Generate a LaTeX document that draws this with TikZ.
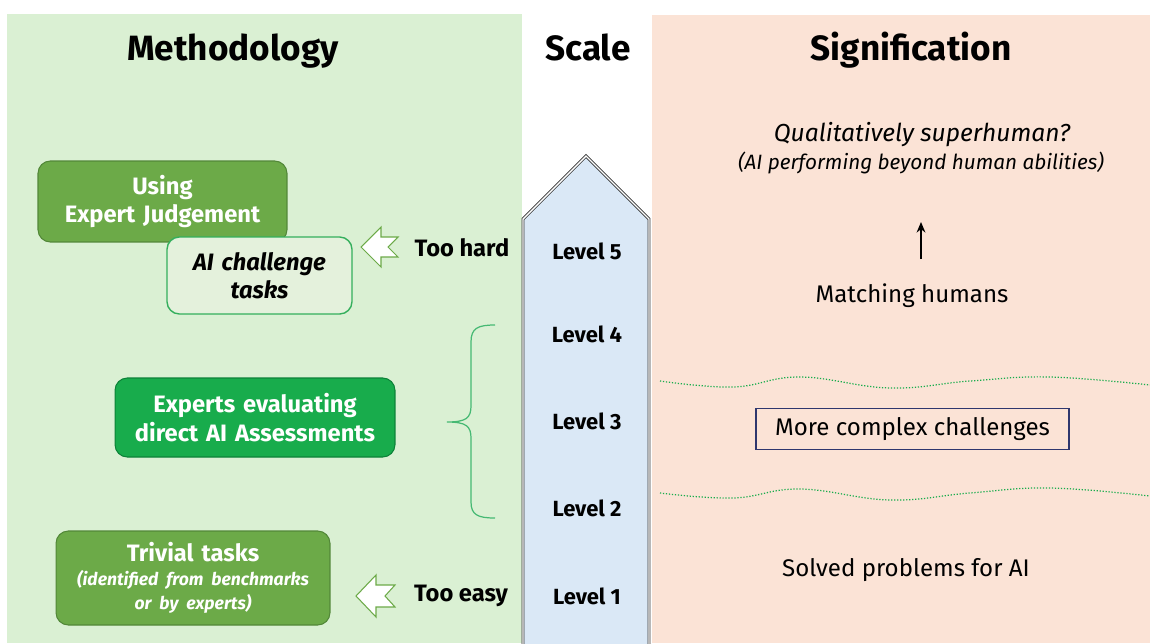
\documentclass[tikz,border=0pt]{standalone}
\usepackage{fontspec}
\setmainfont{Fira Sans}
\usetikzlibrary{arrows.meta}
\definecolor{panelgreen}{RGB}{218,240,211}
\definecolor{panelpink}{RGB}{251,227,214}
\definecolor{scaleblue}{RGB}{218,232,246}
\definecolor{boxgreen}{RGB}{108,170,72}
\definecolor{boxgreenedge}{RGB}{82,135,56}
\definecolor{brightgreen}{RGB}{24,172,76}
\definecolor{brightgreenedge}{RGB}{12,130,56}
\definecolor{palegreen}{RGB}{228,241,220}
\definecolor{edgegreen}{RGB}{52,175,92}
\definecolor{bracegreen}{RGB}{70,185,115}
\definecolor{navy}{RGB}{47,55,110}
\tikzset{
  titletext/.style={font=\fontsize{20}{24}\selectfont\bfseries, inner sep=0pt},
  leveltext/.style={font=\fontsize{12.5}{15}\selectfont\bfseries, inner sep=0pt},
  sidetext/.style={font=\fontsize{13.5}{16}\selectfont\bfseries, inner sep=0pt},
  righttext/.style={font=\fontsize{13.7}{16.5}\selectfont, inner sep=0pt},
  basebox/.style={rounded corners=7pt, line width=0.6pt, align=center, inner sep=0pt,
    font=\fontsize{13.5}{16.2}\selectfont\bfseries},
  greenbox/.style={basebox, fill=boxgreen, draw=boxgreenedge, text=white},
  brightbox/.style={basebox, fill=brightgreen, draw=brightgreenedge, text=white},
  palebox/.style={basebox, fill=palegreen, draw=edgegreen, text=black, line width=0.8pt},
  notcharrow/.style={fill=white, draw=boxgreen, line width=0.6pt, line join=miter},
  wavy/.style={draw=brightgreen, densely dotted, line width=0.7pt},
}
\begin{document}
\begin{tikzpicture}[x=0.02cm, y=-0.02cm]
\useasboundingbox (0,0) rectangle (1150,643);
% panels
\fill[panelgreen] (7,14) rectangle (522,643);
\fill[panelpink] (652,15) rectangle (1150,643);
% scale column
\draw[fill=scaleblue, draw=black!80, double=white, double distance=0.8pt, line width=0.45pt, line join=miter]
  (523,660) -- (523,219) -- (586,156) -- (649,219) -- (649,660);
% titles
\node[titletext, anchor=base] (tmeth) at (233,60) {Methodology};
\node[titletext, anchor=base] (tscale) at (588,60) {Scale};
\node[titletext, anchor=base] (tsig) at (911,60) {Signification};
% levels
\node[leveltext] (l5) at (587,251) {Level 5};
\node[leveltext] (l4) at (587,334) {Level 4};
\node[leveltext] (l3) at (587,421) {Level 3};
\node[leveltext] (l2) at (587,508) {Level 2};
\node[leveltext] (l1) at (587,596) {Level 1};
% left boxes
\node[greenbox, text width=4.98cm, minimum height=1.62cm] (judge) at (162.5,201.5) {Using\\Expert Judgement};
\node[palebox, text width=3.7cm, minimum height=1.54cm] (challenge) at (259.5,275.5) {\itshape AI challenge\\tasks};
\node[brightbox, text width=5.6cm, minimum height=1.58cm] (experts) at (255,417.5) {Experts evaluating\\direct AI Assessments};
\node[greenbox, text width=5.48cm, minimum height=1.88cm] (trivial) at (193,578)
  {Trivial tasks\par\fontsize{10}{13.5}\selectfont\itshape (identified from benchmarks\\or by experts)\par};
% too hard / too easy
\node[sidetext] (hard) at (462,248) {Too hard};
\node[sidetext] (easy) at (461,596) {Too easy};
\coordinate (hardtip) at (361,247);
\coordinate (easytip) at (356,596);
\draw[notcharrow] (hardtip) -- ++(20,-20) -- ++(0,10) -- ++(17,0) -- ++(-10,10) -- ++(10,10) -- ++(-17,0) -- ++(0,10) -- cycle;
\draw[notcharrow] (easytip) -- ++(20,-21) -- ++(0,10) -- ++(19,0) -- ++(-10,11) -- ++(10,11) -- ++(-19,0) -- ++(0,10) -- cycle;
% brace
\coordinate (bracetop) at (495,325);
\coordinate (bracebot) at (495,518);
\coordinate (bracetip) at (447,422);
\draw[bracegreen, line width=0.7pt]
  (bracetop) .. controls (478,325) and (471,328) .. (471,342) -- (471,406)
  .. controls (471,418) and (466,422) .. (bracetip)
  .. controls (466,422) and (471,426) .. (471,438) -- (471,502)
  .. controls (471,515) and (478,518) .. (bracebot);
% right side
\node[font=\fontsize{14}{17}\selectfont\itshape, inner sep=0pt] (superhuman) at (922,135) {Qualitatively superhuman?};
\node[font=\fontsize{11.8}{14}\selectfont\itshape, inner sep=0pt] (beyond) at (921,163) {(AI performing beyond human abilities)};
\node[righttext] (matching) at (912,296) {Matching humans};
\coordinate (upfrom) at (921,259);
\coordinate (upto) at (921,222);
\draw[-{Stealth[length=6pt,width=5pt]}, line width=0.9pt] (upfrom) -- (upto);
\draw[wavy] plot[smooth, tension=0.7] coordinates {(660,381) (733,387) (800,377) (890,388) (970,381) (1050,377) (1150,385)};
\draw[wavy] plot[smooth, tension=0.7] coordinates {(660,493) (733,498) (800,489) (890,500) (970,493) (1050,488) (1150,496)};
\node[righttext, draw=navy, line width=0.8pt, minimum width=6.26cm, minimum height=0.82cm] (complex) at (912.5,429) {More complex challenges};
\node[righttext] (solved) at (906,570) {Solved problems for AI};
\end{tikzpicture}
\end{document}
